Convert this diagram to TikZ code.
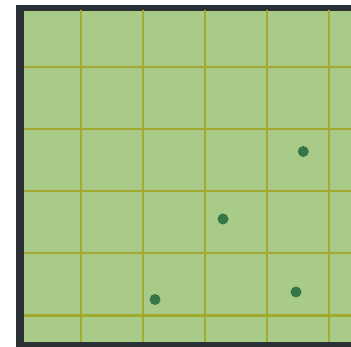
\documentclass[tikz,border=0pt]{standalone}
\definecolor{field}{HTML}{A9CB89}
\definecolor{gridc}{HTML}{A3AA2F}
\definecolor{frame}{HTML}{2B3034}
\definecolor{dotc}{HTML}{367548}
\begin{document}
\begin{tikzpicture}[x=1pt,y=-1pt,
  gridline/.style={draw=gridc,line width=2.2pt},
  plant/.style={circle,fill=dotc,inner sep=0pt,minimum size=11pt}]
\useasboundingbox (0,0) rectangle (351,347);
\fill[white] (0,0) rectangle (351,347);
\fill[frame] (16,5) rectangle (351,347);
\fill[field] (24,11) rectangle (351,342);
\begin{scope}
\clip (24,11) rectangle (351,342);
\foreach \x in {80.7,142.7,204.7,266.7,328.7}
  \draw[gridline] (\x,0) -- (\x,347);
\foreach \y in {66.7,128.9,191.1,253.3,315.5}
  \draw[gridline] (0,\y) -- (351,\y);
\end{scope}
\node[plant] (p1) at (303.3,151.5) {};
\node[plant] (p2) at (223,219) {};
\node[plant] (p3) at (155,299.5) {};
\node[plant] (p4) at (296,292) {};
\end{tikzpicture}
\end{document}
